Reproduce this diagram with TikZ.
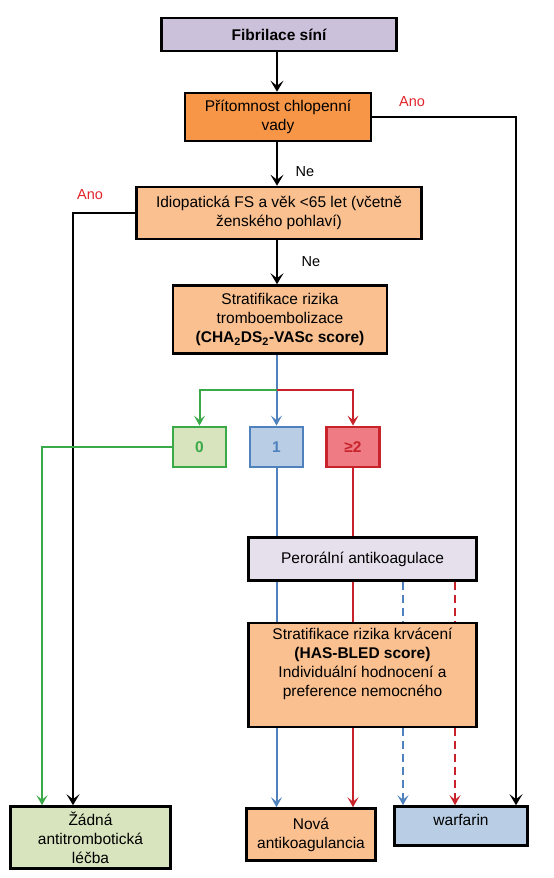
\documentclass[tikz,border=0pt]{standalone}
\usepackage{fontspec}
\setmainfont{Liberation Sans}
\usetikzlibrary{arrows.meta}
\definecolor{lilac}{HTML}{CCC1DA}
\definecolor{valveorange}{HTML}{F79646}
\definecolor{peach}{HTML}{FAC090}
\definecolor{oacgrey}{HTML}{E5E0EC}
\definecolor{lowgreen}{HTML}{3AAA48}
\definecolor{lowfill}{HTML}{D7E4BD}
\definecolor{midblue}{HTML}{4F81BD}
\definecolor{midfill}{HTML}{B9CDE5}
\definecolor{highred}{HTML}{C8232B}
\definecolor{highfill}{HTML}{EF7C84}
\definecolor{anored}{HTML}{E2242B}

\begin{document}
\begin{tikzpicture}[x=1pt,y=-1pt,
    every node/.style={font=\fontsize{15.5}{19}\selectfont,align=center,inner sep=2pt},
    box/.style={rectangle,draw=black,line width=2.6pt},
    score/.style={rectangle,line width=2.8pt,minimum width=53pt,minimum height=40pt,
                  font=\fontsize{15.5}{19}\selectfont\bfseries},
    answer/.style={font=\fontsize{14.5}{17}\selectfont},
    link/.style={line width=2.2pt},
    flow/.style={link,-{Stealth[length=11pt,width=13pt,inset=5pt]}},
    tip/.style={-{Stealth[length=10pt,width=11pt,inset=4.5pt]}},
    lowline/.style={line width=2pt,color=lowgreen},
    midline/.style={line width=2pt,color=midblue},
    highline/.style={line width=2pt,color=highred},
    alt/.style={dash pattern=on 8pt off 5pt}]

    \useasboundingbox (0,0) rectangle (554,878);

    \node[box,fill=lilac,minimum width=235pt,minimum height=33pt,
          font=\fontsize{15.5}{19}\selectfont\bfseries] (af) at (279,34.5) {Fibrilace síní};
    \node[box,fill=valveorange,minimum width=186pt,minimum height=48pt] (valve) at (278,117)
      {Přítomnost chlopenní\\vady};
    \node[box,fill=peach,minimum width=285pt,minimum height=52pt] (idio) at (279,213)
      {Idiopatická FS a věk <65 let (včetně\\ženského pohlaví)};
    \node[box,fill=peach,minimum width=214pt,minimum height=68pt] (strat) at (280,319.5)
      {Stratifikace rizika\\tromboembolizace\\\textbf{(CHA\textsubscript{2}DS\textsubscript{2}-VASc score)}};

    \node[score,draw=lowgreen,fill=lowfill,text=lowgreen] (s0) at (199.5,447) {0};
    \node[score,draw=midblue,fill=midfill,text=midblue] (s1) at (276.5,447) {1};
    \node[score,draw=highred,fill=highfill,text=highred] (s2) at (353,447) {≥2};

    \node[box,fill=oacgrey,minimum width=228pt,minimum height=43pt] (oac) at (362.5,559)
      {Perorální antikoagulace};
    \node[box,fill=peach,minimum width=228pt,minimum height=104pt] (bleed) at (362.5,675)
      {Stratifikace rizika krvácení\\\textbf{(HAS-BLED score)}\\Individuální hodnocení a\\preference nemocného\\\strut};

    \node[box,fill=lowfill,minimum width=160pt,minimum height=62pt] (none) at (90.5,837.5)
      {Žádná\\antitrombotická\\léčba};
    \node[box,fill=peach,minimum width=129pt,minimum height=52pt] (noac) at (311,834.5)
      {Nová\\antikoagulancia};
    \node[box,fill=midfill,minimum width=133pt,minimum height=39pt,text depth=12pt] (warf) at (461,826)
      {warfarin};

    \node[answer,text=anored] (anoR) at (412,102) {Ano};
    \node[answer,text=anored] (anoL) at (90,195) {Ano};
    \node[answer] (ne1) at (305,172) {Ne};
    \node[answer] (ne2) at (311,262) {Ne};

    \coordinate (spine) at (277,0);
    \draw[flow] (af.south -| spine) -- (valve.north -| spine);
    \draw[flow] (valve.south -| spine) -- (idio.north -| spine);
    \draw[flow] (idio.south -| spine) -- (strat.north -| spine);

    \coordinate (yesR) at (516,117);
    \coordinate (yesL) at (73,213);
    \draw[flow] (valve.east) -- (yesR) -- (yesR |- warf.north);
    \draw[flow] (idio.west) -- (yesL) -- (yesL |- none.north);

    \coordinate (split) at (276.5,390);
    \draw[midline,tip] (strat.south -| s1) -- (s1.north);
    \draw[lowline,tip] (split) -| (s0.north);
    \draw[highline,tip] (split) -| (s2.north);

    \coordinate (lowturn) at (42,447);
    \draw[lowline,tip] (s0.west) -- (lowturn) -- (lowturn |- none.north);

    \draw[midline] (s1.south) -- (s1.south |- oac.north);
    \draw[highline] (s2.south) -- (s2.south |- oac.north);

    \coordinate (vkaB) at (403,600);
    \coordinate (vkaR) at (455,600);
    \draw[midline] (oac.south -| s1) -- (bleed.north -| s1);
    \draw[highline] (oac.south -| s2) -- (bleed.north -| s2);
    \draw[midline,alt] (oac.south -| vkaB) -- (bleed.north -| vkaB);
    \draw[highline,alt] (oac.south -| vkaR) -- (bleed.north -| vkaR);

    \draw[midline,tip] (bleed.south -| s1) -- (noac.north -| s1);
    \draw[highline,tip] (bleed.south -| s2) -- (noac.north -| s2);
    \draw[midline,alt,tip] (bleed.south -| vkaB) -- (warf.north -| vkaB);
    \draw[highline,alt,tip] (bleed.south -| vkaR) -- (warf.north -| vkaR);
  \end{tikzpicture}
\end{document}
